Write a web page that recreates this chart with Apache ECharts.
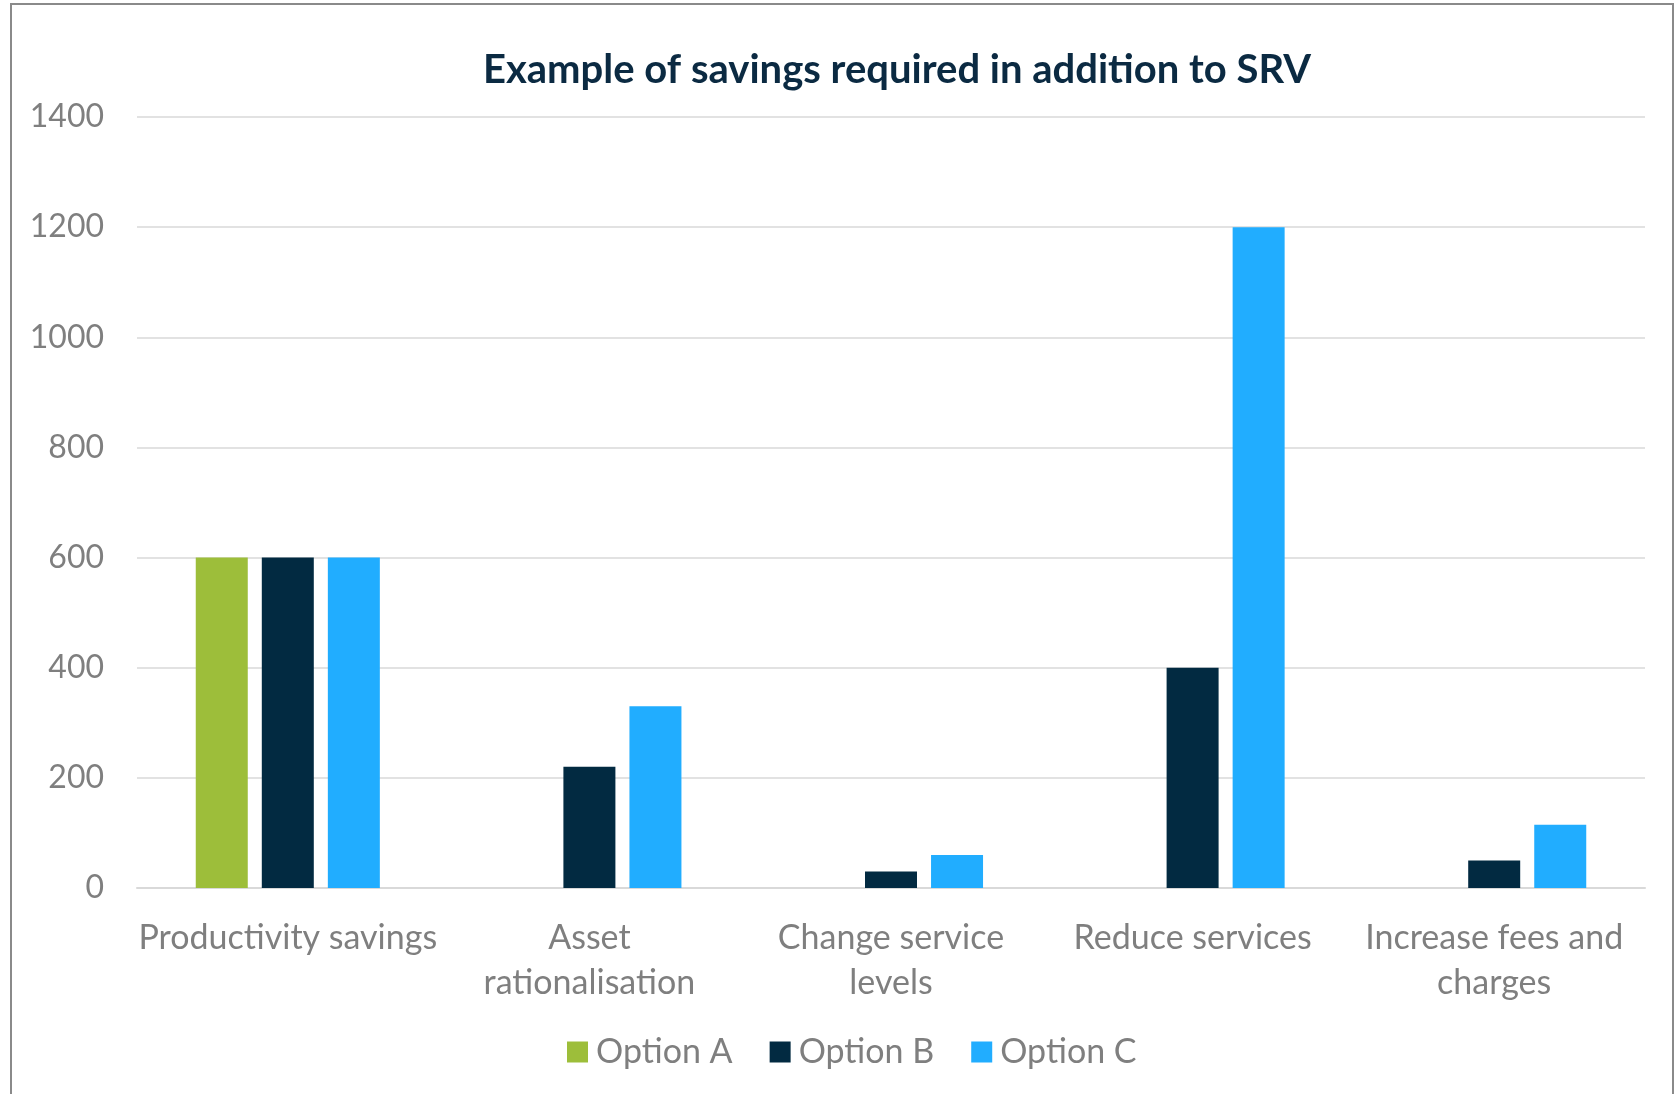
<!DOCTYPE html>
<html><head><meta charset="utf-8">
<script src="https://cdn.jsdelivr.net/npm/echarts@6/dist/echarts.min.js"></script>
<style>html,body{margin:0;padding:0;background:#fff}#c{width:1678px;height:1094px}</style>
</head><body><div id="c"></div>
<script>
const categories = ['Productivity savings', 'Asset\nrationalisation', 'Change service\nlevels', 'Reduce services', 'Increase fees and\ncharges'];
const seriesNames = ['Option A', 'Option B', 'Option C'];
const optionA = [600, null, null, null, null];
const optionB = [600, 220, 30, 400, 50];
const optionC = [600, 330, 60, 1200, 115];
const yTicks = [0, 200, 400, 600, 800, 1000, 1200, 1400];
const colors = ['#9DBE3A', '#022A41', '#21ADFF'];

const FONT = 'Lato';
const GRAY = '#7F7F7F';
const chart = echarts.init(document.getElementById('c'), null, {renderer: 'canvas'});
const seriesData = [optionA, optionB, optionC];
chart.setOption({
  animation: false,
  backgroundColor: '#fff',
  textStyle: {fontFamily: FONT},
  title: {
    text: 'Example of savings required in addition to SRV',
    left: 892, top: 45, textAlign: 'center',
    textStyle: {fontFamily: FONT, fontWeight: 'bold', fontSize: 40, color: '#0B2A42'}
  },
  graphic: [{
    type: 'rect', silent: true, z: -1,
    shape: {x: 11, y: 4, width: 1662, height: 1110},
    style: {fill: 'none', stroke: '#8A8A8A', lineWidth: 2}
  }],
  legend: {
    data: seriesNames, left: 562, top: 1030,
    icon: 'rect', itemWidth: 21, itemHeight: 21, itemGap: 37,
    textStyle: {fontFamily: FONT, fontSize: 34, color: GRAY, padding: [0, 0, 0, 3]}
  },
  grid: {left: 137, right: 33, top: 117, bottom: 206, containLabel: false},
  xAxis: {
    type: 'category', data: categories,
    axisLine: {show: true, lineStyle: {color: '#D9D9D9', width: 2}},
    axisTick: {show: false},
    axisLabel: {fontFamily: FONT, fontSize: 34, color: GRAY, margin: 28, lineHeight: 45, interval: 0}
  },
  yAxis: {
    type: 'value', min: yTicks[0], max: yTicks[yTicks.length - 1], interval: yTicks[1] - yTicks[0],
    axisLine: {show: false}, axisTick: {show: false},
    splitLine: {lineStyle: {color: '#D9D9D9', width: 1.5}},
    axisLabel: {fontFamily: FONT, fontSize: 32, color: GRAY, margin: 33, formatter: v => String(v)}
  },
  series: seriesNames.map((n, i) => ({
    name: n, type: 'bar', data: seriesData[i],
    barWidth: 52, barGap: '27%',
    itemStyle: {color: colors[i]}
  }))
});
</script></body></html>
